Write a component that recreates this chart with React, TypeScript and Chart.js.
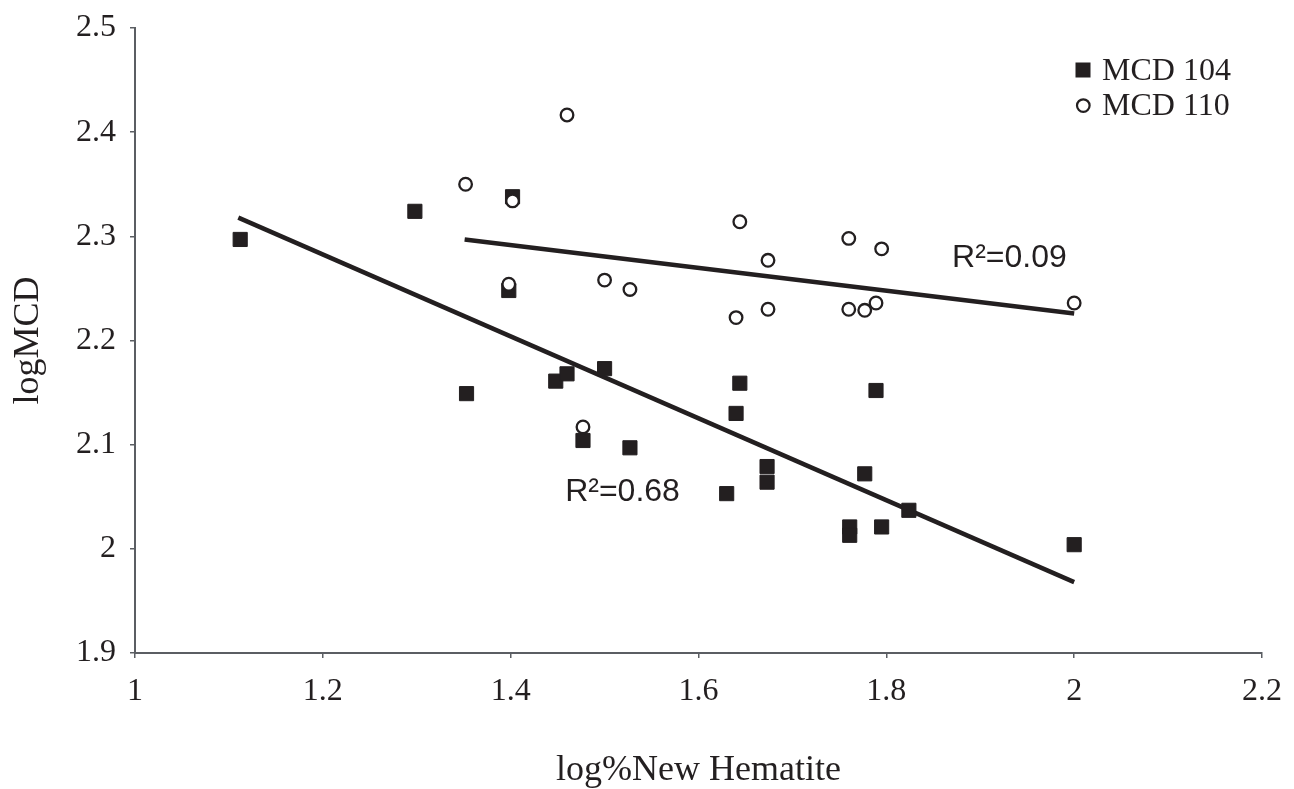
import React, { useEffect, useRef } from 'react';
import { Chart, registerables } from 'chart.js';

Chart.register(...registerables);

// ---- Data ----
const mcd104X = [1.112, 1.298, 1.402, 1.398, 1.353, 1.448, 1.46, 1.5, 1.477, 1.527, 1.644, 1.64, 1.63, 1.673, 1.673, 1.789, 1.777, 1.824, 1.761, 1.761, 1.795, 2.0];
const mcd104Y = [2.297, 2.324, 2.338, 2.248, 2.149, 2.161, 2.168, 2.173, 2.104, 2.097, 2.159, 2.13, 2.053, 2.079, 2.064, 2.152, 2.072, 2.037, 2.021, 2.013, 2.021, 2.004];

const mcd110X = [1.352, 1.46, 1.402, 1.398, 1.5, 1.527, 1.477, 1.644, 1.674, 1.64, 1.674, 1.76, 1.795, 1.76, 1.777, 1.789, 2.0];
const mcd110Y = [2.35, 2.4165, 2.334, 2.254, 2.258, 2.249, 2.117, 2.314, 2.277, 2.222, 2.23, 2.298, 2.288, 2.23, 2.229, 2.236, 2.236];

const trend104X = [1.11, 2.0];
const trend104Y = [2.318, 1.968];
const trend110X = [1.351, 2.0];
const trend110Y = [2.297, 2.226];

const seriesNames = ['MCD 104', 'MCD 110'];
const r2Texts = ['R²=0.68', 'R²=0.09'];
const r2X = [1.458, 1.87];
const r2Y = [2.0462, 2.2709];

const xTickValues = [1, 1.2, 1.4, 1.6, 1.8, 2, 2.2];
const xTickLabels = ['1', '1.2', '1.4', '1.6', '1.8', '2', '2.2'];
const yTickValues = [1.9, 2, 2.1, 2.2, 2.3, 2.4, 2.5];
const yTickLabels = ['1.9', '2', '2.1', '2.2', '2.3', '2.4', '2.5'];

const xTitle = 'log%New Hematite';
const yTitle = 'logMCD';

// ---- Styling ----
const INK = '#231f20';
const AXIS = '#5b5e63';
const SERIF = "'Liberation Serif', 'Times New Roman', serif";
const SANS = "'Liberation Sans', Arial, sans-serif";

const toPts = (xs: number[], ys: number[]) => xs.map((x, i) => ({ x, y: ys[i] }));

const nearestLabel = (v: number, vals: number[], labels: string[]) => {
  let best = 0;
  for (let i = 1; i < vals.length; i++) {
    if (Math.abs(vals[i] - v) < Math.abs(vals[best] - v)) best = i;
  }
  return Math.abs(vals[best] - v) < 1e-6 ? labels[best] : '';
};

const overlayPlugin = {
  id: 'overlay',
  afterDatasetsDraw(chart: any) {
    const { ctx, scales, chartArea } = chart;
    const xs = scales.x;
    const ys = scales.y;
    ctx.save();
    // R² labels
    ctx.fillStyle = INK;
    ctx.font = `32px ${SANS}`;
    ctx.textAlign = 'left';
    ctx.textBaseline = 'alphabetic';
    r2Texts.forEach((t, i) => {
      ctx.fillText(t, xs.getPixelForValue(r2X[i]), ys.getPixelForValue(r2Y[i]));
    });

    // Legend
    ctx.font = `32px ${SERIF}`;
    ctx.fillStyle = INK;
    ctx.fillRect(1075.5, 62.5, 15, 15);
    ctx.fillText(seriesNames[0], 1102, 79.5);
    ctx.beginPath();
    ctx.arc(1083.3, 105.6, 6.3, 0, Math.PI * 2);
    ctx.fillStyle = '#ffffff';
    ctx.fill();
    ctx.lineWidth = 2.2;
    ctx.strokeStyle = INK;
    ctx.stroke();
    ctx.fillStyle = INK;
    ctx.fillText(seriesNames[1], 1102, 115);

    // Y axis title
    ctx.font = `36px ${SERIF}`;
    ctx.translate(29, (chartArea.top + chartArea.bottom) / 2);
    ctx.rotate(-Math.PI / 2);
    ctx.textAlign = 'center';
    ctx.textBaseline = 'middle';
    ctx.fillText(yTitle, 0, 0);
    ctx.restore();
  },
};

export default function App() {
  const canvasRef = useRef<HTMLCanvasElement | null>(null);

  useEffect(() => {
    if (!canvasRef.current) return;
    const chart = new Chart(canvasRef.current, {
      type: 'scatter',
      data: {
        datasets: [
          {
            type: 'line',
            label: 'trend 104',
            data: toPts(trend104X, trend104Y),
            borderColor: INK,
            borderWidth: 4.5,
            pointRadius: 0,
            fill: false,
            order: 3,
          } as any,
          {
            type: 'line',
            label: 'trend 110',
            data: toPts(trend110X, trend110Y),
            borderColor: INK,
            borderWidth: 4.5,
            pointRadius: 0,
            fill: false,
            order: 3,
          } as any,
          {
            label: seriesNames[0],
            data: toPts(mcd104X, mcd104Y),
            pointStyle: 'rect',
            pointRadius: 10,
            borderWidth: 1,
            backgroundColor: INK,
            borderColor: INK,
            order: 2,
          },
          {
            label: seriesNames[1],
            data: toPts(mcd110X, mcd110Y),
            pointStyle: 'circle',
            pointRadius: 6.3,
            borderWidth: 2.3,
            backgroundColor: '#ffffff',
            borderColor: INK,
            order: 1,
          },
        ],
      },
      options: {
        animation: false,
        responsive: false,
        events: [],
        layout: { padding: { top: 28, right: 32, left: 0, bottom: 0 } },
        plugins: {
          legend: { display: false },
          tooltip: { enabled: false },
        },
        scales: {
          x: {
            type: 'linear',
            min: 1,
            max: 2.2,
            afterBuildTicks: (scale: any) => {
              scale.ticks = xTickValues.map((v) => ({ value: v }));
            },
            afterFit: (scale: any) => {
              scale.height = 136;
              scale.paddingLeft = 0;
              scale.paddingRight = 0;
            },
            ticks: {
              autoSkip: false,
              maxRotation: 0,
              padding: 14,
              color: INK,
              font: { family: SERIF, size: 32 },
              callback: (v: any) => nearestLabel(Number(v), xTickValues, xTickLabels),
            },
            grid: {
              display: true,
              drawOnChartArea: false,
              drawTicks: true,
              tickLength: 5,
              color: AXIS,
              lineWidth: 1.5,
            },
            border: { display: true, color: AXIS, width: 2 },
            title: {
              display: true,
              text: xTitle,
              color: INK,
              font: { family: SERIF, size: 36, lineHeight: 1 },
              padding: { top: 0, bottom: 0 },
            },
          },
          y: {
            type: 'linear',
            min: 1.9,
            max: 2.5,
            afterBuildTicks: (scale: any) => {
              scale.ticks = yTickValues.map((v) => ({ value: v }));
            },
            afterFit: (scale: any) => {
              scale.width = 135;
              scale.paddingTop = 0;
              scale.paddingBottom = 0;
            },
            ticks: {
              autoSkip: false,
              padding: 14,
              color: INK,
              font: { family: SERIF, size: 32 },
              callback: (v: any) => nearestLabel(Number(v), yTickValues, yTickLabels),
            },
            grid: {
              display: true,
              drawOnChartArea: false,
              drawTicks: true,
              tickLength: 5,
              color: AXIS,
              lineWidth: 1.5,
            },
            border: { display: true, color: AXIS, width: 2 },
          },
        },
      },
      plugins: [overlayPlugin],
    });
    return () => chart.destroy();
  }, []);

  return (
    <div style={{ position: 'fixed', left: 0, top: 0, width: 1294, height: 789, background: '#ffffff' }}>
      <canvas ref={canvasRef} width={1294} height={789} style={{ width: 1294, height: 789, display: 'block' }} />
    </div>
  );
}
